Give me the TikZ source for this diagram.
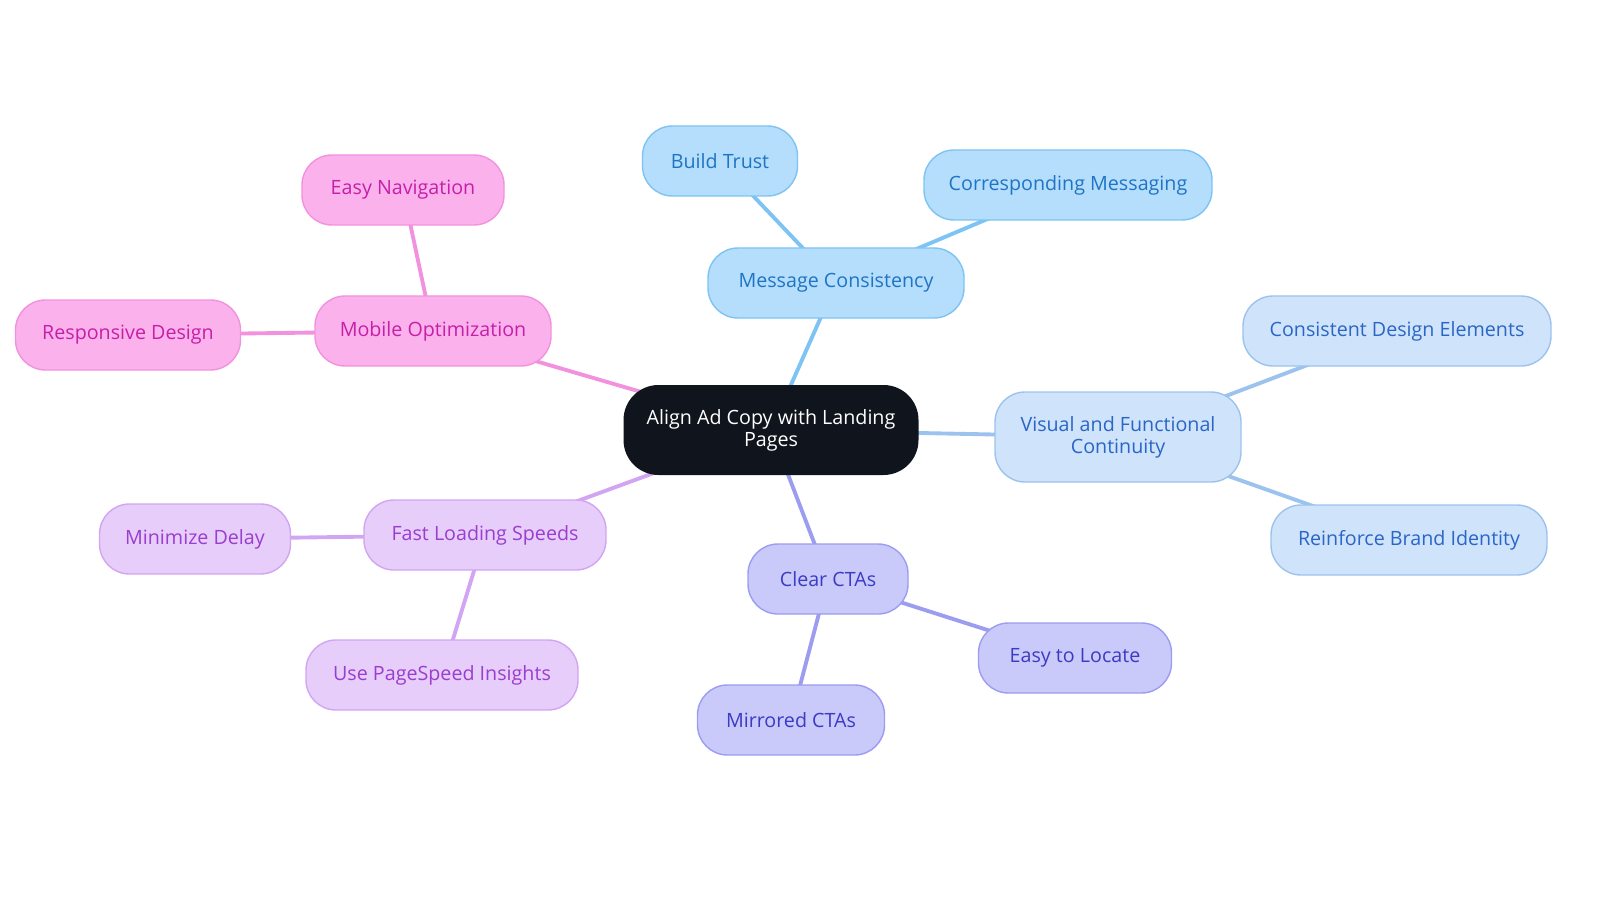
\documentclass[tikz,border=0pt]{standalone}
\usepackage{fontspec}
\setmainfont{Open Sans}
\usetikzlibrary{backgrounds}
\definecolor{rootfill}{HTML}{0F141D}
\definecolor{bluefill}{HTML}{B5DEFC}\definecolor{bluetext}{HTML}{1F74C4}\definecolor{blueline}{HTML}{7DC3F3}
\definecolor{skyfill}{HTML}{CFE3FA}\definecolor{skytext}{HTML}{2A66C8}\definecolor{skyline}{HTML}{9CC3EE}
\definecolor{violfill}{HTML}{C9C9FA}\definecolor{violtext}{HTML}{3B3BC4}\definecolor{violline}{HTML}{9C9CF0}
\definecolor{lilfill}{HTML}{E6CDFA}\definecolor{liltext}{HTML}{9B3DCF}\definecolor{lilline}{HTML}{D2A5F2}
\definecolor{pinkfill}{HTML}{FBB2EC}\definecolor{pinktext}{HTML}{C61FA8}\definecolor{pinkline}{HTML}{F291DE}
\tikzset{
  box/.style={rounded corners=0.3cm, minimum height=0.7cm, align=center, font=\fontsize{5.6}{6.2}\selectfont, line width=0.4pt},
  blue/.style={box, fill=bluefill, draw=blueline, text=bluetext},
  sky/.style={box, fill=skyfill, draw=skyline, text=skytext},
  viol/.style={box, fill=violfill, draw=violline, text=violtext},
  lil/.style={box, fill=lilfill, draw=lilline, text=liltext},
  pink/.style={box, fill=pinkfill, draw=pinkline, text=pinktext},
  link/.style={line width=1.1pt},
}
\begin{document}
\begin{tikzpicture}
\useasboundingbox (0,0) rectangle (16,9.03);
% centre
\node[box, fill=rootfill, text=white, minimum width=2.95cm, minimum height=0.9cm, rounded corners=0.35cm] (root) at (7.71,4.73) {Align Ad Copy with Landing\\Pages};
% message consistency
\node[blue, minimum width=2.56cm] (msg) at (8.36,6.20) {Message Consistency};
\node[blue, minimum width=1.55cm] (trust) at (7.20,7.42) {Build Trust};
\node[blue, minimum width=2.88cm] (corr) at (10.68,7.18) {Corresponding Messaging};
% visual continuity
\node[sky, minimum width=2.46cm, minimum height=0.9cm] (vis) at (11.18,4.66) {Visual and Functional\\Continuity};
\node[sky, minimum width=3.08cm] (design) at (13.97,5.72) {Consistent Design Elements};
\node[sky, minimum width=2.76cm] (brand) at (14.09,3.63) {Reinforce Brand Identity};
% clear ctas
\node[viol, minimum width=1.60cm] (cta) at (8.28,3.24) {Clear CTAs};
\node[viol, minimum width=1.93cm] (locate) at (10.75,2.45) {Easy to Locate};
\node[viol, minimum width=1.87cm] (mirror) at (7.91,1.83) {Mirrored CTAs};
% fast loading
\node[lil, minimum width=2.42cm] (fast) at (4.85,3.68) {Fast Loading Speeds};
\node[lil, minimum width=1.91cm] (delay) at (1.95,3.64) {Minimize Delay};
\node[lil, minimum width=2.72cm] (insight) at (4.42,2.28) {Use PageSpeed Insights};
% mobile
\node[pink, minimum width=2.36cm] (mobile) at (4.33,5.72) {Mobile Optimization};
\node[pink, minimum width=2.02cm] (nav) at (4.03,7.13) {Easy Navigation};
\node[pink, minimum width=2.25cm] (resp) at (1.28,5.68) {Responsive Design};
% connectors, centre to centre behind the boxes
\begin{scope}[on background layer]
\draw[link, blueline] (root.center) -- (msg.center) (msg.center) -- (trust.center) (msg.center) -- (corr.center);
\draw[link, skyline] (root.center) -- (vis.center) (vis.center) -- (design.center) (vis.center) -- (brand.center);
\draw[link, violline] (root.center) -- (cta.center) (cta.center) -- (locate.center) (cta.center) -- (mirror.center);
\draw[link, lilline] (root.center) -- (fast.center) (fast.center) -- (delay.center) (fast.center) -- (insight.center);
\draw[link, pinkline] (root.center) -- (mobile.center) (mobile.center) -- (nav.center) (mobile.center) -- (resp.center);
\end{scope}
\end{tikzpicture}
\end{document}
